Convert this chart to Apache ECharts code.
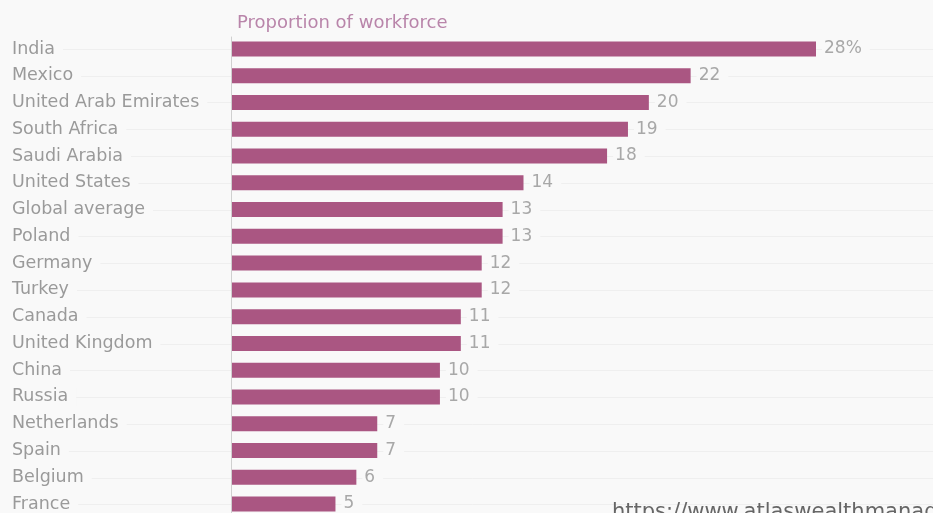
<!DOCTYPE html>
<html><head><meta charset="utf-8">
<script src="https://cdn.jsdelivr.net/npm/echarts@6/dist/echarts.min.js"></script>
<style>html,body{margin:0;padding:0;background:#f9f9f9}#c{width:933px;height:513px}</style>
</head><body><div id="c"></div>
<script>
const categories = ["India","Mexico","United Arab Emirates","South Africa","Saudi Arabia","United States","Global average","Poland","Germany","Turkey","Canada","United Kingdom","China","Russia","Netherlands","Spain","Belgium","France"];
const values = [28,22,20,19,18,14,13,13,12,12,11,11,10,10,7,7,6,5];
const title = "Proportion of workforce";
const watermark = "https://www.atlaswealthmanagement.com";

const bg = '#f9f9f9';
const F = 'DejaVu Sans';
const chart = echarts.init(document.getElementById('c'));
chart.setOption({
  backgroundColor: bg,
  animation: false,
  textStyle: { fontFamily: F },
  title: { text: title, left: 232, top: 9, textStyle: { color: '#b985aa', fontSize: 18, fontWeight: 'normal', fontFamily: F } },
  grid: [
    { left: 231, right: 0, top: 49, bottom: 8.4, containLabel: false },
    { left: 12, right: 0, top: 49, bottom: 8.4, containLabel: false },
    { left: 231, right: 0, top: 37, bottom: 0, containLabel: false }
  ],
  xAxis: [
    { gridIndex: 0, type: 'value', min: 0, max: 33.6, show: false },
    { gridIndex: 1, type: 'value', min: 0, max: 1, show: false },
    { gridIndex: 2, type: 'value', min: 0, max: 1, show: false }
  ],
  yAxis: [
    { gridIndex: 0, type: 'category', data: categories, inverse: true, boundaryGap: false, z: 5,
      axisLine: { show: false },
      axisTick: { show: false },
      axisLabel: { align: 'left', margin: 219, color: '#9a9a9a', fontSize: 17.5, fontFamily: F,
        backgroundColor: bg, padding: [0, 8, 0, 0] }
    },
    { gridIndex: 1, type: 'category', data: categories, inverse: true, boundaryGap: false, z: 0,
      axisLine: { show: false }, axisTick: { show: false }, axisLabel: { show: false },
      splitLine: { show: true, lineStyle: { color: '#efefef', width: 1 } }
    },
    { gridIndex: 2, type: 'value', min: 0, max: 1, z: 4,
      axisLine: { show: true, lineStyle: { color: '#d0d0d0', width: 1 } },
      axisTick: { show: false }, axisLabel: { show: false }, splitLine: { show: false }
    }
  ],
  series: [{
    type: 'bar', xAxisIndex: 0, yAxisIndex: 0, data: values, barWidth: 15, z: 3,
    itemStyle: { color: '#aa5682' },
    label: { show: true, position: 'right', distance: 6, color: '#a8a8a8', fontSize: 17, fontFamily: F,
      backgroundColor: bg, padding: [0, 8, 0, 2],
      formatter: p => p.dataIndex === 0 ? p.value + '%' : String(p.value) }
  }],
  graphic: [{ type: 'text', left: 612, top: 502, z: 10,
    style: { text: watermark, fill: '#666', fontSize: 21, fontFamily: F } }]
});
</script></body></html>
